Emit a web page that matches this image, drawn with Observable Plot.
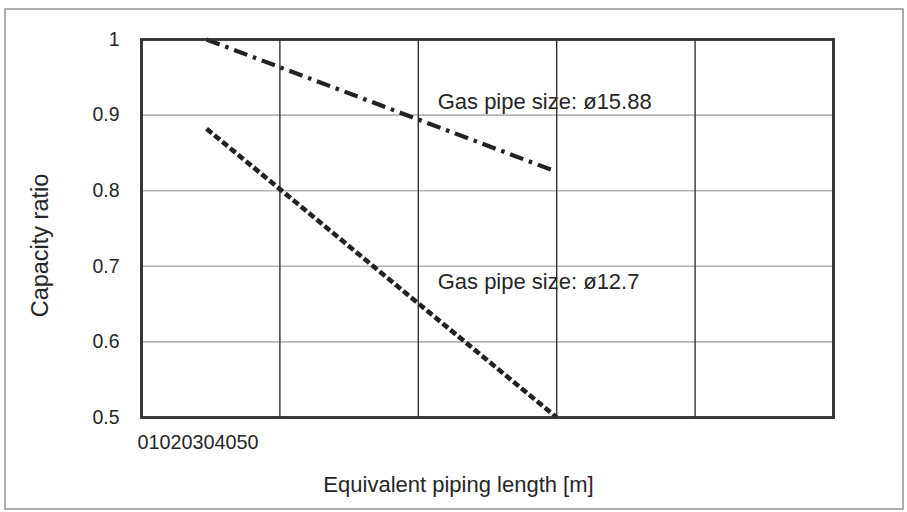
<!DOCTYPE html>
<html>
<head>
<meta charset="utf-8">
<script src="https://cdn.jsdelivr.net/npm/d3@7"></script>
<script src="https://cdn.jsdelivr.net/npm/@observablehq/plot@0.6"></script>
<style>
  html, body { margin: 0; padding: 0; background: #fff; }
  #chart svg { display: block; }
</style>
</head>
<body>
<div id="chart"></div>
<script>
// ---- data ----
const xTicks = [0, 10, 20, 30, 40, 50];
const yTicks = [0.5, 0.6, 0.7, 0.8, 0.9, 1];
const pipe1588 = [ {x: 4.7, y: 1.0}, {x: 30, y: 0.825} ];   // dash-dot
const pipe127  = [ {x: 4.7, y: 0.882}, {x: 30, y: 0.5} ];   // dotted
const annotations = [
  {x: 21.4, y: 0.918, text: "Gas pipe size: ø15.88"},
  {x: 21.4, y: 0.679, text: "Gas pipe size: ø12.7"}
];
const xLabel = "Equivalent piping length [m]";
const yLabel = "Capacity ratio";

const FONT = "'Liberation Sans', Arial, sans-serif";
const INK = "#262626";

const chart = Plot.plot({
  width: 907,
  height: 512,
  marginLeft: 141,
  marginRight: 74,
  marginTop: 39,
  marginBottom: 95,
  style: { fontFamily: FONT, background: "#fff", color: INK, overflow: "visible" },
  x: { domain: [0, 50] },
  y: { domain: [0.5, 1] },
  marks: [
    Plot.gridY([0.6, 0.7, 0.8, 0.9], { stroke: "#b4b4b4", strokeOpacity: 1, strokeWidth: 1.6 }),
    Plot.gridX(xTicks, { stroke: "#333", strokeOpacity: 1, strokeWidth: 1.4 }),
    Plot.axisY(yTicks, {
      tickSize: 0, tickPadding: 22, fontSize: 19.5, fill: INK,
      tickFormat: d => String(d), label: null
    }),
    Plot.axisX(xTicks, { tickSize: 0, tickFormat: () => "", label: null }),
    Plot.text([xTicks.join("")], {
      x: () => 0, frameAnchor: "bottom", textAnchor: "start",
      dx: -4, dy: 25, lineAnchor: "middle", fontSize: 19.8, fill: INK, text: d => d
    }),
    Plot.text([xLabel], {
      frameAnchor: "bottom", textAnchor: "middle", dx: -29, dy: 67, lineAnchor: "middle",
      fontSize: 22, fill: INK, text: d => d
    }),
    Plot.text([yLabel], {
      frameAnchor: "left", textAnchor: "middle", dx: -101, dy: 17, rotate: -90, lineAnchor: "middle",
      fontSize: 23.5, fill: INK, text: d => d
    }),
    Plot.line(pipe1588, {
      x: "x", y: "y", stroke: "#222", strokeWidth: 4.2,
      strokeDasharray: "14,6,3.5,6", strokeLinecap: "butt"
    }),
    Plot.line(pipe127, {
      x: "x", y: "y", stroke: "#222", strokeWidth: 4.6,
      strokeDasharray: "7,3.2", strokeLinecap: "butt"
    }),
    Plot.text(annotations, {
      x: "x", y: "y", text: "text", textAnchor: "start", lineAnchor: "middle",
      fontSize: 22, fill: INK
    }),
    Plot.frame({ stroke: "#2e2e2e", strokeWidth: 2.8 })
  ]
});

// outer border of the figure
d3.select(chart).append("rect")
  .attr("x", 5).attr("y", 9).attr("width", 898).attr("height", 500)
  .attr("fill", "none").attr("stroke", "#9a9a9a").attr("stroke-width", 1.6);

document.getElementById("chart").appendChild(chart);
</script>
</body>
</html>
